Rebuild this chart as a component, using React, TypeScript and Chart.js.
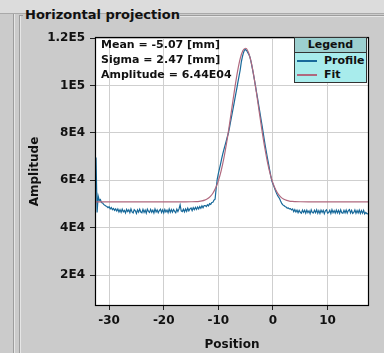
import React, { useEffect, useRef } from "react";
import { Chart, registerables } from "chart.js";

Chart.register(...registerables);

// ---- data ----
const profilePositions = [
  -32.4, -32.2, -32.0, -31.8, -31.6, -31.4, -31.2, -31.0, -30.8, -30.6,
  -30.4, -30.2, -30.0, -29.8, -29.6, -29.4, -29.2, -29.0, -28.8, -28.6,
  -28.4, -28.2, -28.0, -27.8, -27.6, -27.4, -27.2, -27.0, -26.8, -26.6,
  -26.4, -26.2, -26.0, -25.8, -25.6, -25.4, -25.2, -25.0, -24.8, -24.6,
  -24.4, -24.2, -24.0, -23.8, -23.6, -23.4, -23.2, -23.0, -22.8, -22.6,
  -22.4, -22.2, -22.0, -21.8, -21.6, -21.4, -21.2, -21.0, -20.8, -20.6,
  -20.4, -20.2, -20.0, -19.8, -19.6, -19.4, -19.2, -19.0, -18.8, -18.6,
  -18.4, -18.2, -18.0, -17.8, -17.6, -17.4, -17.2, -17.0, -16.8, -16.6,
  -16.4, -16.2, -16.0, -15.8, -15.6, -15.4, -15.2, -15.0, -14.8, -14.6,
  -14.4, -14.2, -14.0, -13.8, -13.6, -13.4, -13.2, -13.0, -12.8, -12.6,
  -12.4, -12.2, -12.0, -11.8, -11.6, -11.4, -11.2, -11.0, -10.8, -10.6,
  -10.4, -10.2, -10.0, -9.8, -9.6, -9.4, -9.2, -9.0, -8.8, -8.6,
  -8.4, -8.2, -8.0, -7.8, -7.6, -7.4, -7.2, -7.0, -6.8, -6.6,
  -6.4, -6.2, -6.0, -5.8, -5.6, -5.4, -5.2, -5.0, -4.8, -4.6,
  -4.4, -4.2, -4.0, -3.8, -3.6, -3.4, -3.2, -3.0, -2.8, -2.6,
  -2.4, -2.2, -2.0, -1.8, -1.6, -1.4, -1.2, -1.0, -0.8, -0.6,
  -0.4, -0.2, 0.0, 0.2, 0.4, 0.6, 0.8, 1.0, 1.2, 1.4,
  1.6, 1.8, 2.0, 2.2, 2.4, 2.6, 2.8, 3.0, 3.2, 3.4,
  3.6, 3.8, 4.0, 4.2, 4.4, 4.6, 4.8, 5.0, 5.2, 5.4,
  5.6, 5.8, 6.0, 6.2, 6.4, 6.6, 6.8, 7.0, 7.2, 7.4,
  7.6, 7.8, 8.0, 8.2, 8.4, 8.6, 8.8, 9.0, 9.2, 9.4,
  9.6, 9.8, 10.0, 10.2, 10.4, 10.6, 10.8, 11.0, 11.2, 11.4,
  11.6, 11.8, 12.0, 12.2, 12.4, 12.6, 12.8, 13.0, 13.2, 13.4,
  13.6, 13.8, 14.0, 14.2, 14.4, 14.6, 14.8, 15.0, 15.2, 15.4,
  15.6, 15.8, 16.0, 16.2, 16.4, 16.6, 16.8, 17.0, 17.2, 17.4,
];

// amplitude in thousands
const profileAmplitudeK = [
  69.6, 46.4, 53.3, 51.5, 51.9, 50.6, 50.4, 49.8, 49.5, 49.1,
  48.9, 48.4, 48.8, 47.9, 48.5, 47.6, 48.1, 47.3, 47.9, 47.0,
  47.9, 46.6, 47.6, 46.5, 47.8, 46.7, 47.3, 46.2, 47.7, 46.8,
  47.5, 46.3, 47.9, 46.6, 46.2, 47.6, 47.1, 46.0, 47.5, 46.5,
  47.8, 46.6, 46.3, 47.7, 46.4, 47.4, 46.1, 47.8, 46.9, 46.4,
  47.7, 46.5, 47.4, 46.2, 47.9, 46.6, 47.5, 46.3, 47.2, 47.8,
  46.4, 47.5, 46.2, 47.7, 46.6, 47.4, 46.3, 47.9, 46.5, 47.6,
  46.5, 47.6, 46.9, 46.3, 47.8, 46.8, 47.9, 49.6, 47.1, 46.8,
  47.8, 46.7, 47.9, 46.9, 48.2, 47.1, 47.9, 48.3, 47.2, 48.4,
  47.6, 48.6, 47.7, 48.7, 47.9, 48.9, 48.2, 49.2, 48.4, 49.3,
  49.3, 48.9, 49.7, 49.2, 50.1, 49.8, 50.6, 50.7, 51.6, 52.0,
  56.5, 60.5, 62.8, 64.8, 66.8, 69.0, 71.0, 72.8, 74.5, 76.2,
  78.0, 79.5, 81.7, 84.2, 86.6, 89.0, 91.5, 94.0, 96.5, 99.0,
  101.6, 104.0, 106.5, 109.8, 112.0, 113.8, 115.0, 115.1, 114.6, 113.8,
  113.0, 111.8, 109.8, 107.5, 105.1, 102.5, 99.8, 97.0, 94.3, 91.5,
  88.7, 85.9, 83.2, 80.2, 77.3, 74.4, 71.8, 69.2, 66.8, 64.3,
  61.8, 59.6, 58.4, 57.2, 56.0, 54.8, 53.8, 53.0, 52.3, 51.2,
  50.2, 49.6, 49.3, 48.9, 48.7, 48.2, 48.3, 47.9, 48.0, 47.5,
  47.9, 46.8, 47.6, 46.6, 47.4, 46.3, 47.3, 46.5, 46.1, 47.4,
  46.4, 47.3, 46.1, 47.4, 46.3, 47.1, 45.9, 47.5, 46.4, 46.2,
  47.3, 46.3, 47.5, 46.1, 47.2, 46.0, 47.4, 46.4, 47.3, 45.9,
  47.1, 47.5, 46.1, 46.4, 47.3, 46.0, 47.6, 46.3, 47.2, 46.1,
  47.4, 46.2, 47.3, 46.0, 47.5, 46.3, 46.1, 47.3, 46.2, 47.4,
  46.1, 47.2, 47.6, 46.2, 47.3, 46.0, 46.4, 47.5, 46.1, 47.2,
  46.2, 47.4, 46.0, 47.2, 46.1, 47.3, 45.8, 46.4, 45.9, 45.8,
];

const fitPositions = [
  -32.4, -20, -16, -15, -14, -13.5, -13, -12.5, -12, -11.5,
  -11, -10.5, -10, -9.5, -9, -8.5, -8, -7.5, -7, -6.5,
  -6, -5.5, -5, -4.5, -4, -3.5, -3, -2.5, -2, -1.5,
  -1, -0.5, 0, 0.5, 1, 1.5, 2, 2.5, 3, 3.5,
  4, 5, 7, 17.4,
];

// amplitude in thousands
const fitAmplitudeK = [
  50.9, 50.9, 50.9, 50.92, 50.99, 51.09, 51.28, 51.6, 52.17, 53.09,
  54.53, 56.68, 59.74, 63.88, 69.17, 75.61, 82.96, 90.84, 98.65, 105.7,
  111.27, 114.73, 115.67, 114.0, 109.89, 103.85, 96.51, 88.61, 80.83, 73.7,
  67.57, 62.6, 58.78, 56.0, 54.06, 52.79, 51.98, 51.49, 51.21, 51.06,
  50.98, 50.92, 50.9, 50.9,
];

const seriesNames = ["Profile", "Fit"];
const xTickValues = [-30, -20, -10, 0, 10];
const xTickLabels = ["-30", "-20", "-10", "0", "10"];
const yTickValues = [20, 40, 60, 80, 100, 120];
const yTickLabels = ["2E4", "4E4", "6E4", "8E4", "1E5", "1.2E5"];
const xRange = [-32.4, 17.4];
const yRangeK = [7.37, 120];
const statsLines = ["Mean = -5.07 [mm]", "Sigma = 2.47 [mm]", "Amplitude = 6.44E04"];
const panelTitle = "Horizontal projection";
const xAxisTitle = "Position";
const yAxisTitle = "Amplitude";
const legendTitle = "Legend";

// ---- styles ----
const PROFILE_COLOR = "#17699a";
const FIT_COLOR = "#b0687e";
const TEXT = "#111111";
const FONT = "'DejaVu Sans', sans-serif";
const BG = "#cbcbcb";

export default function App() {
  const canvasRef = useRef<HTMLCanvasElement | null>(null);

  useEffect(() => {
    const canvas = canvasRef.current;
    if (!canvas) return;
    const framePlugin = {
      id: "frame",
      beforeDraw(chart: any) {
        const { ctx, chartArea: a } = chart;
        ctx.save();
        ctx.fillStyle = "#ffffff";
        ctx.fillRect(a.left, a.top, a.right - a.left, a.bottom - a.top);
        ctx.restore();
      },
      afterDatasetsDraw(chart: any) {
        const { ctx, chartArea: a } = chart;
        ctx.save();
        ctx.strokeStyle = "#000000";
        ctx.lineWidth = 1.2;
        ctx.strokeRect(a.left - 0.5, a.top - 0.5, a.right - a.left + 1, a.bottom - a.top + 1);
        ctx.restore();
      },
    };

    const tickFont = { family: FONT, size: 12, weight: "bold" as const };
    const titleFont = { family: FONT, size: 12, weight: "bold" as const };

    const chart = new Chart(canvas, {
      type: "line",
      data: {
        datasets: [
          {
            label: seriesNames[0],
            data: profilePositions.map((x, i) => ({ x, y: profileAmplitudeK[i] })),
            borderColor: PROFILE_COLOR,
            borderWidth: 1.2,
            pointRadius: 0,
            tension: 0,
            fill: false,
            order: 2,
          },
          {
            label: seriesNames[1],
            data: fitPositions.map((x, i) => ({ x, y: fitAmplitudeK[i] })),
            borderColor: FIT_COLOR,
            borderWidth: 1.2,
            pointRadius: 0,
            cubicInterpolationMode: "monotone",
            fill: false,
            order: 1,
          },
        ],
      },
      options: {
        animation: false,
        responsive: false,
        devicePixelRatio: 1,
        layout: { padding: { left: 0, top: 38, right: 16, bottom: 0 } },
        plugins: {
          legend: { display: false },
          tooltip: { enabled: false },
          title: { display: false },
        },
        scales: {
          x: {
            type: "linear",
            min: xRange[0],
            max: xRange[1],
            afterFit: (s: any) => {
              s.height = 48;
            },
            afterBuildTicks: (s: any) => {
              s.ticks = xTickValues.map((v) => ({ value: v }));
            },
            ticks: {
              callback: (_v: any, i: number) => xTickLabels[i],
              font: tickFont,
              color: TEXT,
              padding: 4,
              maxRotation: 0,
              autoSkip: false,
            },
            grid: { color: "#cfcfcf", tickColor: "#222222", tickLength: 5, lineWidth: 1 },
            border: { display: false },
            title: {
              display: true,
              text: xAxisTitle,
              font: titleFont,
              color: TEXT,
              padding: { top: 0, bottom: 1 },
            },
          },
          y: {
            type: "linear",
            min: yRangeK[0],
            max: yRangeK[1],
            afterFit: (s: any) => {
              s.width = 96;
            },
            afterBuildTicks: (s: any) => {
              s.ticks = yTickValues.map((v) => ({ value: v }));
            },
            ticks: {
              callback: (_v: any, i: number) => yTickLabels[i],
              font: tickFont,
              color: TEXT,
              padding: 5,
              autoSkip: false,
            },
            grid: { color: "#cfcfcf", tickColor: "#222222", tickLength: 6, lineWidth: 1 },
            border: { display: false },
            title: {
              display: true,
              text: yAxisTitle,
              font: titleFont,
              color: TEXT,
              padding: { top: 28, bottom: 0 },
            },
          },
        },
      },
      plugins: [framePlugin],
    } as any);
    return () => chart.destroy();
  }, []);

  const abs = (s: React.CSSProperties): React.CSSProperties => ({ position: "absolute", ...s });

  return (
    <div
      style={{
        position: "fixed",
        left: 0,
        top: 0,
        width: 384,
        height: 353,
        background: BG,
        overflow: "hidden",
        fontFamily: FONT,
        color: TEXT,
      }}
    >
      {/* top band */}
      <div style={abs({ left: 0, top: 0, width: 384, height: 13, background: "#dcdcdc", borderBottom: "1px solid #a9a9a9" })} />
      {/* left panel edge */}
      <div style={abs({ left: 13, top: 14, width: 1, height: 339, background: "#9d9d9d" })} />
      <div style={abs({ left: 14, top: 14, width: 1, height: 339, background: "#e6e6e6" })} />
      {/* titled border */}
      <div style={abs({ left: 19, top: 15, width: 1, height: 338, background: "#9d9d9d" })} />
      <div style={abs({ left: 20, top: 16, width: 1, height: 337, background: "#e6e6e6" })} />
      <div style={abs({ left: 19, top: 15, width: 4, height: 1, background: "#9d9d9d" })} />
      <div style={abs({ left: 180, top: 15, width: 204, height: 1, background: "#9d9d9d" })} />
      <div style={abs({ left: 180, top: 16, width: 204, height: 1, background: "#e6e6e6" })} />
      <div
        style={abs({
          left: 25,
          top: 7,
          fontSize: 13,
          lineHeight: "15px",
          fontWeight: "bold",
          whiteSpace: "nowrap",
        })}
      >
        {panelTitle}
      </div>

      <canvas ref={canvasRef} width={384} height={353} style={abs({ left: 0, top: 0, width: 384, height: 353 })} />

      {/* statistics */}
      <div style={abs({ left: 101, top: 37, fontSize: 11, lineHeight: "15px", fontWeight: "bold", whiteSpace: "nowrap" })}>
        {statsLines.map((s) => (
          <div key={s}>{s}</div>
        ))}
      </div>

      {/* legend */}
      <div
        style={abs({
          left: 294,
          top: 37,
          width: 71,
          height: 44,
          border: "1px solid #333",
          background: "#a8ecec",
          fontSize: 11,
          fontWeight: "bold",
          boxSizing: "content-box",
        })}
      >
        <div
          style={{
            height: 14,
            lineHeight: "14px",
            background: "#9ccfcf",
            borderBottom: "1px solid #333",
            textAlign: "center",
          }}
        >
          {legendTitle}
        </div>
        {seriesNames.map((n, i) => (
          <div key={n} style={{ position: "relative", height: 14, lineHeight: "14px" }}>
            <div
              style={abs({
                left: 2,
                top: 7,
                width: 20,
                height: 1.5,
                background: i === 0 ? PROFILE_COLOR : FIT_COLOR,
              })}
            />
            <div style={abs({ left: 29, top: 1, whiteSpace: "nowrap" })}>{n}</div>
          </div>
        ))}
      </div>
    </div>
  );
}
